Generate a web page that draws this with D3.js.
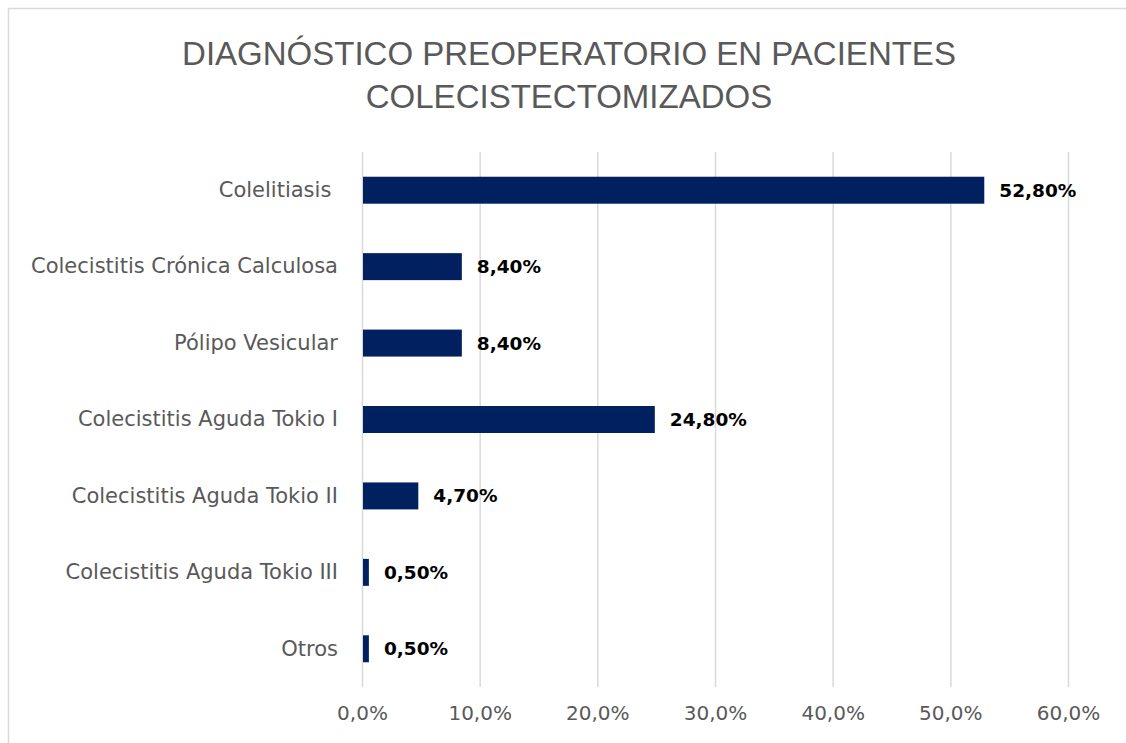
<!DOCTYPE html>
<html>
<head>
<meta charset="utf-8">
<script src="https://cdn.jsdelivr.net/npm/d3@7"></script>
<style>
  body { margin: 0; background: #fff; }
  svg text { font-family: "DejaVu Sans", "Liberation Sans", Arial, sans-serif; }
  svg text.title { font-family: "Liberation Sans", Arial, sans-serif; }
</style>
</head>
<body>
<div id="graphic"></div>
<script>
// chart data
var categories = [
  "Colelitiasis ",
  "Colecistitis Crónica Calculosa",
  "Pólipo Vesicular",
  "Colecistitis Aguda Tokio I",
  "Colecistitis Aguda Tokio II",
  "Colecistitis Aguda Tokio III",
  "Otros"
];
var values = [52.8, 8.4, 8.4, 24.8, 4.7, 0.5, 0.5];
var valueLabels = ["52,80%", "8,40%", "8,40%", "24,80%", "4,70%", "0,50%", "0,50%"];
var xTicks = [0, 10, 20, 30, 40, 50, 60];
var titleLines = ["DIAGNÓSTICO PREOPERATORIO EN PACIENTES", "COLECISTECTOMIZADOS"];

var width = 1126, height = 743;
var margin = { top: 152, left: 362, right: 58, bottom: 56 };
var chart_width = width - margin.left - margin.right;
var chart_height = height - margin.top - margin.bottom;

var svg = d3.select('#graphic').append('svg')
  .attr('width', width)
  .attr('height', height);

// chart frame
svg.append('rect')
  .attr('x', 8.5).attr('y', 8.5)
  .attr('width', 1300).attr('height', 1000)
  .attr('fill', '#fff')
  .attr('stroke', '#d9d9d9')
  .attr('stroke-width', 1.5);

// title
svg.append('text')
  .attr('class', 'title')
  .attr('text-anchor', 'middle')
  .attr('fill', '#595959')
  .style('font-size', '33px')
  .selectAll('tspan')
  .data(titleLines)
  .join('tspan')
  .attr('x', 569)
  .attr('y', (d, i) => 65 + i * 43)
  .text(d => d);

var x = d3.scaleLinear()
  .domain([0, 60])
  .range([0, chart_width]);

var y = d3.scaleBand()
  .domain(categories)
  .range([0, chart_height])
  .paddingInner(0.647)
  .paddingOuter(0.3235);

var g = svg.append('g')
  .attr('transform', 'translate(' + margin.left + ',' + margin.top + ')');

// gridlines
var xAxis = d3.axisBottom(x)
  .tickValues(xTicks)
  .tickSize(-chart_height)
  .tickPadding(19)
  .tickFormat(d => d.toFixed(1).replace('.', ',') + '%');

var xg = g.append('g')
  .attr('class', 'x axis')
  .attr('transform', 'translate(0,' + chart_height + ')')
  .call(xAxis);
xg.select('.domain').remove();
xg.selectAll('line').attr('stroke', '#d9d9d9').attr('stroke-width', 1.5);
xg.selectAll('text')
  .attr('fill', '#595959')
  .style('font-size', '20px');

// y axis labels
var yAxis = d3.axisLeft(y).tickSize(0).tickPadding(24);
var yg = g.append('g').attr('class', 'y axis').call(yAxis);
yg.select('.domain').remove();
yg.selectAll('text')
  .attr('fill', '#595959')
  .style('font-size', '21px')
  .style('white-space', 'pre');

// bars
g.selectAll('rect.bar')
  .data(values)
  .join('rect')
  .attr('class', 'bar')
  .attr('x', x(0) + 1)
  .attr('y', (d, i) => y(categories[i]))
  .attr('width', d => x(d))
  .attr('height', y.bandwidth())
  .attr('fill', '#002060');

// value labels
g.selectAll('text.value')
  .data(values)
  .join('text')
  .attr('class', 'value')
  .attr('x', d => x(d) + 16)
  .attr('y', (d, i) => y(categories[i]) + y.bandwidth() / 2)
  .attr('dy', '0.35em')
  .attr('fill', '#000')
  .style('font-size', '18.5px')
  .style('font-weight', 'bold')
  .text((d, i) => valueLabels[i]);
</script>
</body>
</html>
